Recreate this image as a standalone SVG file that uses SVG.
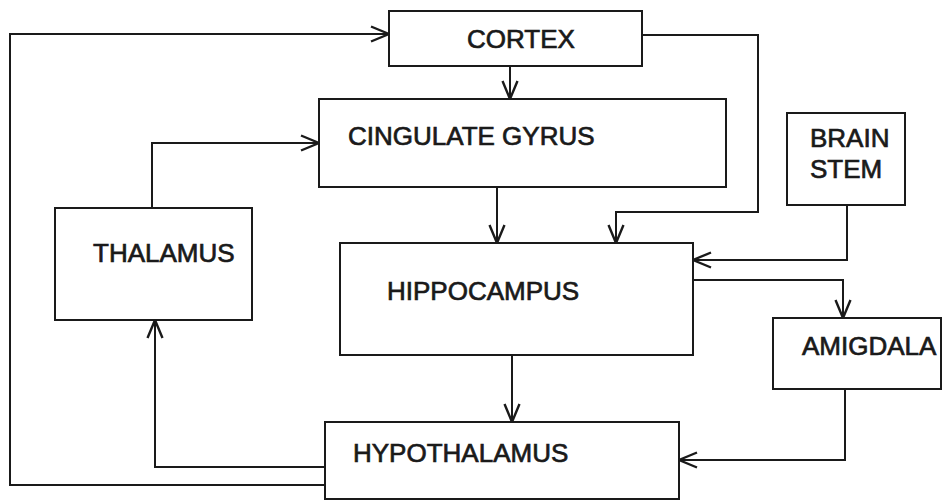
<svg xmlns="http://www.w3.org/2000/svg" width="943" height="500" viewBox="0 0 943 500">
<defs>
<style>
.box{fill:#fff;stroke:#1a1a1a;stroke-width:2}
.lbl{font-family:"Liberation Sans",Arial,sans-serif;font-size:26px;fill:#1a1a1a;stroke:#1a1a1a;stroke-width:0.7}
.edge{fill:none;stroke:#1a1a1a;stroke-width:2;marker-end:url(#arr)}
</style>
<marker id="arr" markerUnits="userSpaceOnUse" markerWidth="24" markerHeight="24" viewBox="-14 -8 16 16" refX="0" refY="0" orient="auto">
<path d="M-12,-5 L0,0 L-12,5" fill="none" stroke="#1a1a1a" stroke-width="1.6"/>
</marker>
</defs>
<rect width="943" height="500" fill="#fff"/>
<g id="connectors">
<path class="edge" d="M325 485 H10 V34 H389"/>
<path class="edge" d="M510 66 V99"/>
<path class="edge" d="M152 208 V143 H319"/>
<path class="edge" d="M497 187 V243"/>
<path class="edge" d="M642 35 H758 V212 H616 V243"/>
<path class="edge" d="M847 205 V260 H693"/>
<path class="edge" d="M693 280 H843 V318"/>
<path class="edge" d="M845 389 V460 H679"/>
<path class="edge" d="M512 355 V422"/>
<path class="edge" d="M325 467 H155 V320"/>
</g>
<g id="cortex"><rect class="box" x="389" y="11" width="253" height="55"/><text class="lbl" x="467" y="48">CORTEX</text></g>
<g id="cingulate-gyrus"><rect class="box" x="319" y="99" width="407" height="88"/><text class="lbl" x="348" y="145">CINGULATE GYRUS</text></g>
<g id="thalamus"><rect class="box" x="55" y="208" width="197" height="112"/><text class="lbl" x="93" y="262">THALAMUS</text></g>
<g id="hippocampus"><rect class="box" x="340" y="243" width="353" height="112"/><text class="lbl" x="387" y="300">HIPPOCAMPUS</text></g>
<g id="brain-stem"><rect class="box" x="787" y="113" width="118" height="92"/><text class="lbl" x="810" y="147">BRAIN</text><text class="lbl" x="810" y="178">STEM</text></g>
<g id="amigdala"><rect class="box" x="773" y="318" width="168" height="71"/><text class="lbl" x="802" y="355">AMIGDALA</text></g>
<g id="hypothalamus"><rect class="box" x="325" y="422" width="354" height="77"/><text class="lbl" x="353" y="462">HYPOTHALAMUS</text></g>
</svg>
